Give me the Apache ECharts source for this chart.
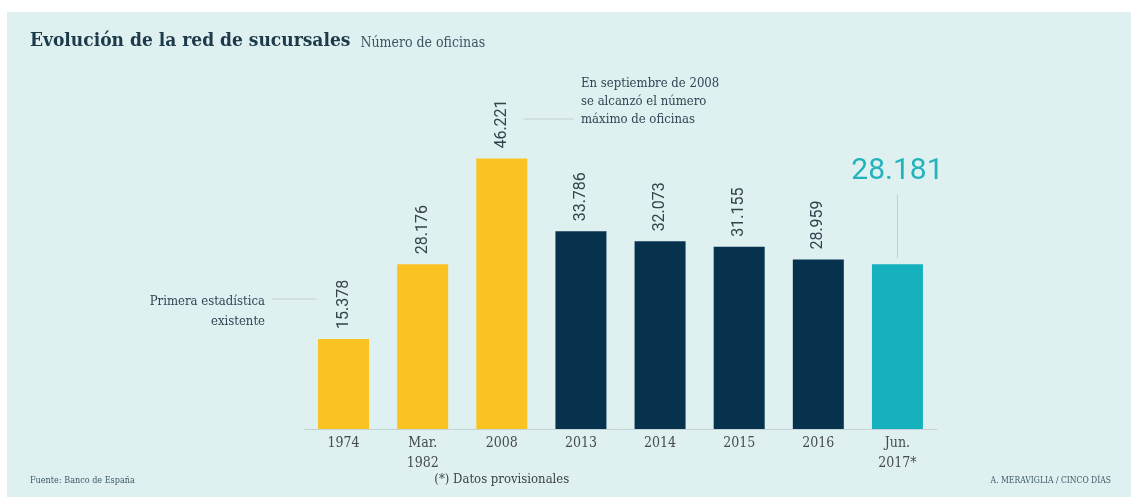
<!DOCTYPE html>
<html>
<head>
<meta charset="utf-8">
<script src="https://cdn.jsdelivr.net/npm/echarts@6/dist/echarts.min.js"></script>
<style>
  html, body { margin: 0; padding: 0; background: #ffffff; }
  #chart { width: 1131px; height: 499px; }
</style>
</head>
<body>
<div id="chart"></div>
<script>
// Bank branch network: number of offices per period
const categories = ['1974', 'Mar.\n1982', '2008', '2013', '2014', '2015', '2016', 'Jun.\n2017*'];
const offices = [15378, 28176, 46221, 33786, 32073, 31155, 28959, 28181];
const valueLabels = ['15.378', '28.176', '46.221', '33.786', '32.073', '31.155', '28.959', '28.181'];
const barColors = ['#fbc322', '#fbc322', '#fbc322', '#07324d', '#07324d', '#07324d', '#07324d', '#15b1bf'];

const serif = '"DejaVu Serif Condensed", "Liberation Serif", serif';
const sans = 'Roboto, "Noto Sans", sans-serif';
const lastIdx = offices.length - 1;

const chart = echarts.init(document.getElementById('chart'));

const seriesData = offices.map((v, i) => {
  const item = { value: v, itemStyle: { color: barColors[i] } };
  if (i === lastIdx) {
    item.label = {
      rotate: 0,
      align: 'center',
      verticalAlign: 'bottom',
      distance: 78,
      fontSize: 30,
      fontFamily: sans,
      color: '#22b3bc'
    };
  }
  return item;
});

chart.setOption({
  backgroundColor: '#ffffff',
  animation: false,
  title: {
    left: 25,
    top: 27,
    text: '{a|Evolución de la red de sucursales}  {b|Número de oficinas}',
    textStyle: {
      rich: {
        a: { fontFamily: serif, fontWeight: 'bold', fontSize: 19, color: '#1d3a4b' },
        b: { fontFamily: serif, fontWeight: 'normal', fontSize: 14, color: '#3b5563', padding: [3, 0, 0, 0] }
      }
    }
  },
  grid: { left: 304, right: 194, top: 78, bottom: 70 },
  xAxis: {
    type: 'category',
    data: categories,
    axisTick: { show: false },
    axisLine: { lineStyle: { color: '#c3d2d4', width: 1 } },
    axisLabel: {
      margin: 4,
      fontFamily: serif,
      fontSize: 14,
      lineHeight: 20,
      color: '#454b4f'
    }
  },
  yAxis: {
    type: 'value',
    min: 0,
    max: 60000,
    show: false,
    splitLine: { show: false }
  },
  series: [{
    type: 'bar',
    data: seriesData,
    barWidth: 51,
    label: {
      show: true,
      position: 'top',
      rotate: 90,
      align: 'left',
      verticalAlign: 'middle',
      distance: 10,
      fontFamily: sans,
      fontSize: 16,
      color: '#33434c',
      formatter: p => valueLabels[p.dataIndex]
    }
  }]
});

// Panel, annotations and leader lines positioned from the bar scale
const px = (i, v) => chart.convertToPixel({ gridIndex: 0 }, [i, v]);
const p1974 = px(0, offices[0]);
const p2008 = px(2, offices[2]);
const pLast = px(lastIdx, offices[lastIdx]);

const noteStyle = { fontFamily: serif, fontSize: 13, fill: '#2f4654' };
const lineStyle = { stroke: '#c0d0d3', lineWidth: 1 };

chart.setOption({
  graphic: [
    { type: 'rect', z: -10, silent: true,
      shape: { x: 7, y: 12, width: 1124, height: 485 },
      style: { fill: '#dff0f1' } },
    // 1974 note
    { type: 'text', x: 265, y: p1974[1] - 47,
      style: Object.assign({ text: 'Primera estadística\nexistente', align: 'right', lineHeight: 20 }, noteStyle) },
    { type: 'line', shape: { x1: 272, y1: p1974[1] - 40, x2: p1974[0] - 28, y2: p1974[1] - 40 }, style: lineStyle },
    // 2008 note
    { type: 'text', x: 581, y: 75,
      style: Object.assign({ text: 'En septiembre de 2008\nse alcanzó el número\nmáximo de oficinas', align: 'left', lineHeight: 18 }, noteStyle) },
    { type: 'line', shape: { x1: p2008[0] + 22, y1: 119, x2: 574, y2: 119 }, style: lineStyle },
    // leader line for the latest value
    { type: 'line', shape: { x1: pLast[0], y1: pLast[1] - 70, x2: pLast[0], y2: pLast[1] - 6 }, style: lineStyle },
    // footer
    { type: 'text', x: 30, y: 476,
      style: { text: 'Fuente: Banco de España', fontFamily: serif, fontSize: 9, fill: '#3d5866' } },
    { type: 'text', x: px(2, 0)[0], y: 473,
      style: { text: '(*) Datos provisionales', fontFamily: serif, fontSize: 13, fill: '#3a4347', align: 'center' } },
    { type: 'text', x: 1111, y: 476,
      style: { text: 'A. MERAVIGLIA / CINCO DÍAS', fontFamily: serif, fontSize: 8.5, fill: '#3d5866', align: 'right' } }
  ]
});
</script>
</body>
</html>
